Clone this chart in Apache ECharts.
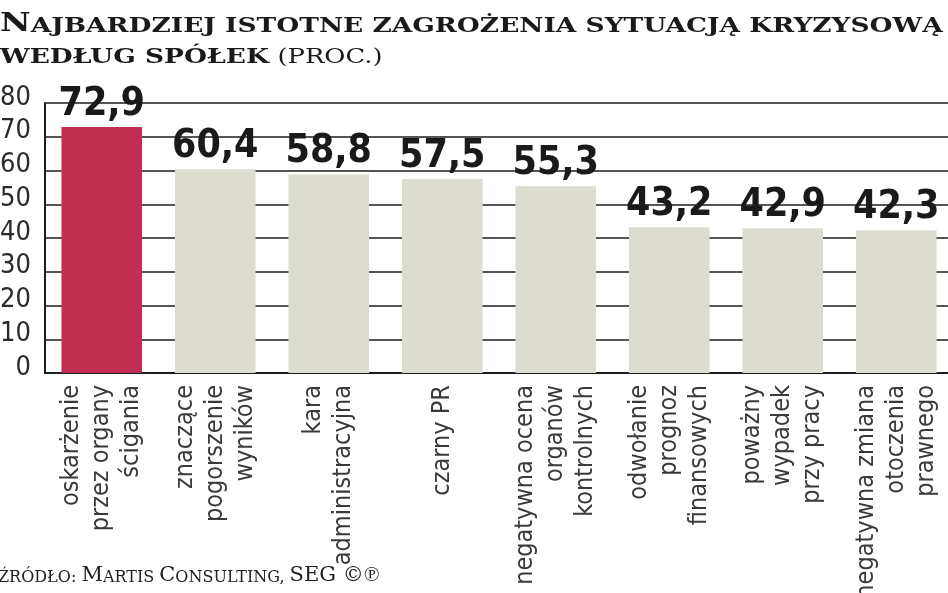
<!DOCTYPE html>
<html>
<head>
<meta charset="utf-8">
<script src="https://cdn.jsdelivr.net/npm/echarts@6/dist/echarts.min.js"></script>
<style>html,body{margin:0;padding:0;background:#fff}#c{width:948px;height:593px}</style>
</head>
<body>
<div id="c"></div>
<script>
const categories = [
  'oskarżenie\nprzez organy\nścigania',
  'znaczące\npogorszenie\nwyników',
  'kara\nadministracyjna',
  'czarny PR',
  'negatywna ocena\norganów\nkontrolnych',
  'odwołanie\nprognoz\nfinansowych',
  'poważny\nwypadek\nprzy pracy',
  'negatywna zmiana\notoczenia\nprawnego'
];
const values = [72.9, 60.4, 58.8, 57.5, 55.3, 43.2, 42.9, 42.3];
const highlighted = [true, false, false, false, false, false, false, false];
const yMin = 0, yMax = 80, yStep = 10;
const titleLine1Big = 'N';
const titleLine1 = 'AJBARDZIEJ ISTOTNE ZAGROŻENIA SYTUACJĄ KRYZYSOWĄ';
const titleLine2 = 'WEDŁUG SPÓŁEK';
const titleUnit = '(PROC.)';

const RED = '#c02f52', GRAY = '#dcdcd1';
const NARROW = '"Liberation Sans Narrow", "DejaVu Sans Condensed", sans-serif';
const SERIF = '"DejaVu Serif", "Liberation Serif", serif';

const chart = echarts.init(document.getElementById('c'), null, {renderer: 'canvas'});
chart.setOption({
  backgroundColor: '#fff',
  animation: false,
  grid: {left: 45, right: -5, top: 103, bottom: 220, outerBoundsMode: 'none', containLabel: false},
  xAxis: {
    type: 'category',
    data: categories,
    axisLine: {show: true, lineStyle: {color: '#1e1e1e', width: 2}},
    axisTick: {show: false},
    axisLabel: {
      rotate: 90, interval: 0, margin: 12,
      fontFamily: NARROW, fontSize: 25, lineHeight: 30, color: '#3a3a3a'
    }
  },
  yAxis: {
    type: 'value', min: yMin, max: yMax, interval: yStep,
    axisLine: {show: true, lineStyle: {color: '#1e1e1e', width: 2}},
    axisTick: {show: false},
    splitLine: {show: true, lineStyle: {color: '#555', width: 2}},
    axisLabel: {
      margin: 14, fontFamily: NARROW, fontSize: 27, color: '#2a2a2a',
      verticalAlign: 'bottom', lineHeight: 11
    }
  },
  series: [{
    type: 'bar',
    barCategoryGap: '29%',
    data: values.map((v, i) => ({value: v, itemStyle: {color: highlighted[i] ? RED : GRAY}})),
    label: {
      show: true, position: 'top', distance: 3,
      fontFamily: NARROW, fontWeight: 'bold', fontSize: 39, color: '#1a1a1a',
      formatter: p => String(p.value).replace('.', ',')
    }
  }],
  graphic: [
    {
      type: 'text', x: 0, y: 6, scaleX: 1.29, scaleY: 1,
      style: {
        text: '{a|' + titleLine1Big + '}{b|' + titleLine1 + '}\n{b|' + titleLine2 + '}  {c|' + titleUnit + '}',
        rich: {
          a: {fontFamily: SERIF, fontWeight: 'bold', fontSize: 26, lineHeight: 31, fill: '#1a1a1a', verticalAlign: 'bottom'},
          b: {fontFamily: SERIF, fontWeight: 'bold', fontSize: 20.5, lineHeight: 31, fill: '#1a1a1a', verticalAlign: 'bottom'},
          c: {fontFamily: SERIF, fontWeight: 'normal', fontSize: 20, lineHeight: 31, fill: '#1a1a1a', verticalAlign: 'bottom'}
        }
      }
    },
    {
      type: 'text', x: -2, y: 562, scaleX: 1.0,
      style: {
        text: '{s|ŹRÓDŁO: }{L|M}{s|ARTIS }{L|C}{s|ONSULTING, }{L|SEG ©℗}',
        rich: {
          s: {fontFamily: SERIF, fontSize: 16, lineHeight: 24, fill: '#222', verticalAlign: 'bottom'},
          L: {fontFamily: SERIF, fontSize: 21, lineHeight: 24, fill: '#222', verticalAlign: 'bottom'}
        }
      }
    }
  ]
});
</script>
</body>
</html>
